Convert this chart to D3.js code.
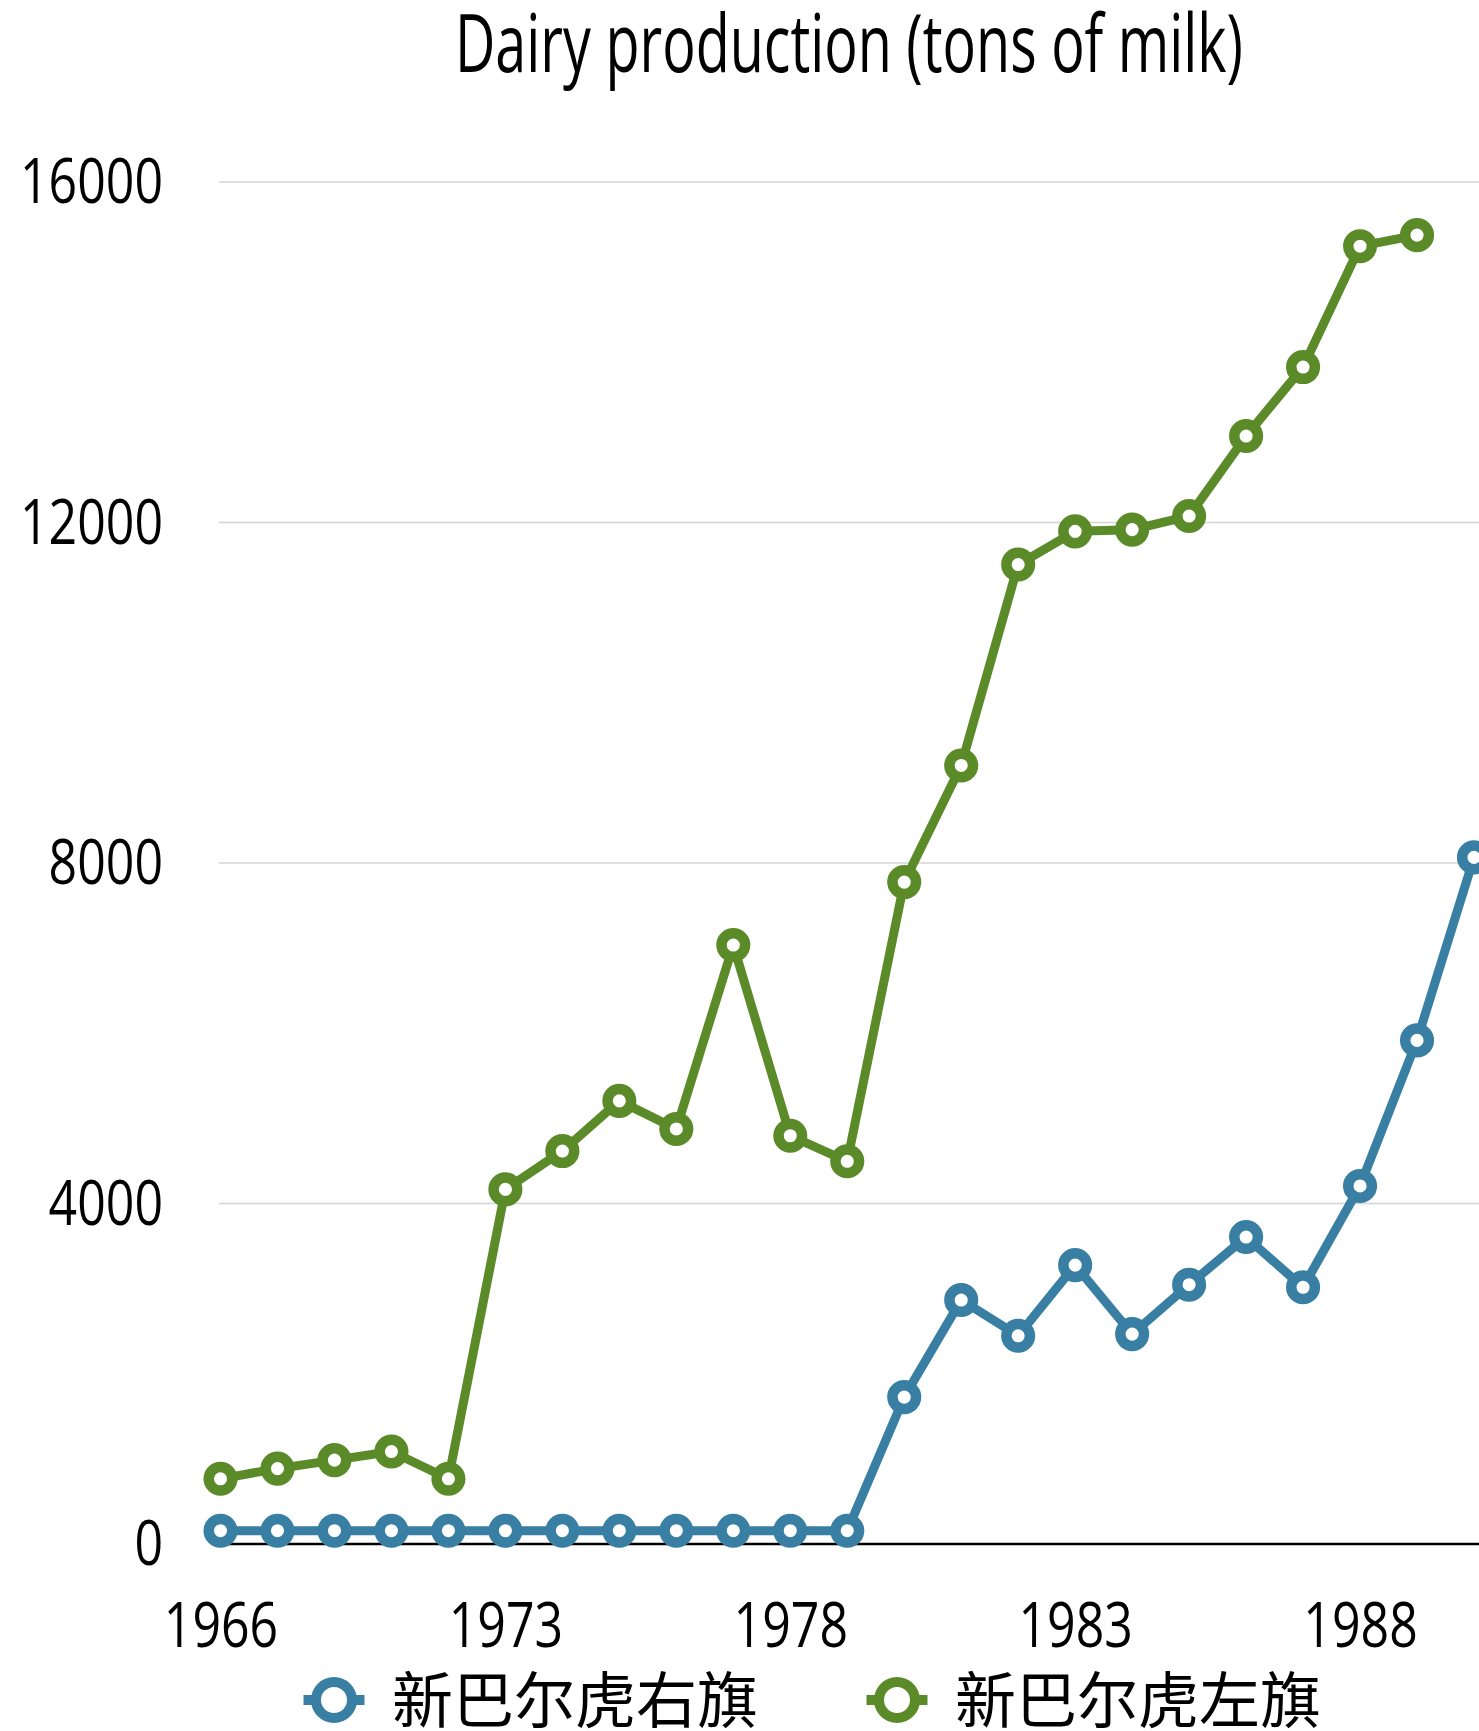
<!DOCTYPE html>
<html>
<head>
<meta charset="utf-8">
<script src="https://cdn.jsdelivr.net/npm/d3@7"></script>
<style>
  html, body { margin: 0; padding: 0; background: #fff; }
  svg { display: block; }
</style>
</head>
<body>
<svg id="chart" width="1479" height="1731"></svg>
<script>
// ---- data ----
const title = "Dairy production (tons of milk)";
const years = ["1966","1969","1970","1971","1972","1973","1974","1975","1976","1977","1978","1979",
               "1980","1981","1982","1983","1984","1985","1986","1987","1988","1989","1990"];
const xTickLabels = ["1966","1973","1978","1983","1988"];
const yTicks = [0, 4000, 8000, 12000, 16000];
const seriesNames = ["新巴尔虎右旗", "新巴尔虎左旗"];
const youqi = [150,150,150,150,150,150,150,150,150,150,150,150,
               1720,2860,2440,3270,2460,3040,3600,3010,4200,5910,8060];
const zuoqi = [760,880,980,1080,760,4160,4610,5200,4870,7030,4790,4490,
               7770,9140,11500,11890,11910,12070,13010,13820,15240,15370,null];
const seriesColors = ["#387fa3", "#5b8a29"];

// ---- layout ----
const svg = d3.select("#chart");
const font = "'Open Sans', 'Lato', sans-serif";

const x = d3.scalePoint().domain(years).range([220.5, 1474]);
const y = d3.scaleLinear().domain([0, 16000]).range([1543.5, 181.5]);

// title
svg.append("text")
  .attr("x", 849).attr("y", 72)
  .attr("text-anchor", "middle")
  .attr("font-family", font).attr("font-size", 80)
  .attr("textLength", 788).attr("lengthAdjust", "spacingAndGlyphs")
  .attr("fill", "#000")
  .text(title);

// y axis with gridlines
const yAxis = svg.append("g").attr("transform", "translate(219,0)")
  .call(d3.axisLeft(y).tickValues(yTicks).tickSize(-1260).tickPadding(0).tickFormat(d3.format("d")));
yAxis.select(".domain").remove();
yAxis.selectAll(".tick line")
  .attr("stroke", d => d === 0 ? "#000" : "#d4d4d4")
  .attr("stroke-width", d => d === 0 ? 2.5 : 1.5);
yAxis.selectAll(".tick text")
  .attr("x", -56).attr("dy", "0.34em")
  .attr("font-family", font).attr("font-size", 62).attr("fill", "#000")
  .attr("text-anchor", "end")
  .each(function(d) {
    const s = String(d);
    d3.select(this).attr("textLength", s.length * 28.6).attr("lengthAdjust", "spacingAndGlyphs");
  });

// x axis labels
const xAxis = svg.append("g").attr("transform", "translate(0,1543.5)")
  .call(d3.axisBottom(x).tickValues(xTickLabels).tickSize(0).tickPadding(0));
xAxis.select(".domain").remove();
xAxis.selectAll(".tick text")
  .attr("y", 103.5).attr("dy", 0)
  .attr("font-family", font).attr("font-size", 62).attr("fill", "#000")
  .each(function(d) {
    d3.select(this).attr("textLength", d.length * 28.6).attr("lengthAdjust", "spacingAndGlyphs");
  });

// lines + points
const allSeries = [youqi, zuoqi];
const line = d3.line()
  .defined(d => d.v !== null)
  .x(d => x(d.year)).y(d => y(d.v));

allSeries.forEach((vals, i) => {
  const pts = years.map((yr, k) => ({ year: yr, v: vals[k] }));
  const g = svg.append("g");
  g.append("path").datum(pts)
    .attr("d", line)
    .attr("fill", "none")
    .attr("stroke", seriesColors[i])
    .attr("stroke-width", 9)
    .attr("stroke-linejoin", "round");
  g.selectAll("circle").data(pts.filter(p => p.v !== null)).join("circle")
    .attr("cx", p => x(p.year)).attr("cy", p => y(p.v))
    .attr("r", 11.8)
    .attr("fill", "#fff")
    .attr("stroke", seriesColors[i])
    .attr("stroke-width", 10.5);
});

// legend
const legendX = [334, 897];
seriesNames.forEach((name, i) => {
  const g = svg.append("g").attr("transform", `translate(${legendX[i]},1700)`);
  g.append("line").attr("x1", -30.5).attr("x2", 30.5).attr("y1", 0).attr("y2", 0)
    .attr("stroke", seriesColors[i]).attr("stroke-width", 10);
  g.append("circle").attr("r", 18).attr("fill", "#fff")
    .attr("stroke", seriesColors[i]).attr("stroke-width", 10);
  g.append("text").attr("x", 58).attr("y", 23)
    .attr("font-family", "'Noto Sans CJK SC', sans-serif")
    .attr("font-size", 61).attr("fill", "#000")
    .text(name);
});
</script>
</body>
</html>
